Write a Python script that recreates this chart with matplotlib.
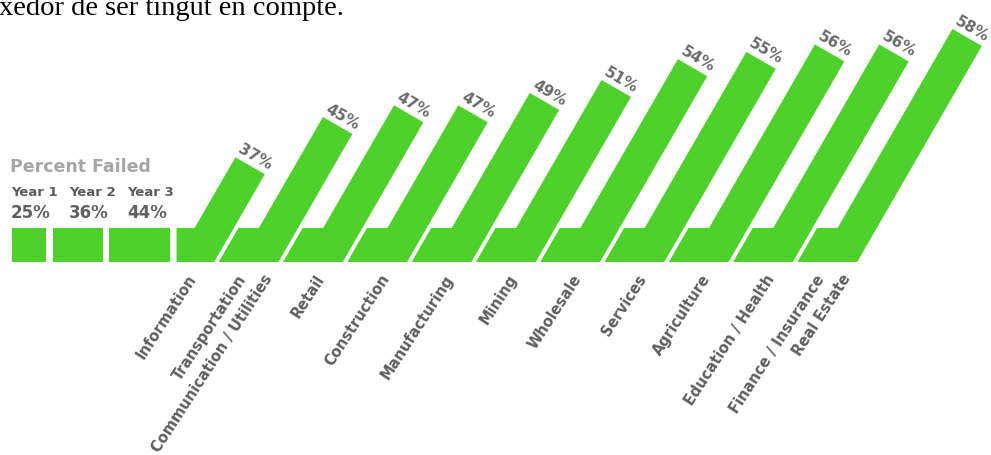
import matplotlib.pyplot as plt
import numpy as np

# tasa de fracaso per any
years = ['Year 1', 'Year 2', 'Year 3']
year_pct = [25, 36, 44]

# percentatge de fracas per sector
sectors = [['Information'],
           ['Transportation', 'Communication / Utilities'],
           ['Retail'],
           ['Construction'],
           ['Manufacturing'],
           ['Mining'],
           ['Wholesale'],
           ['Services'],
           ['Agriculture'],
           ['Education / Health'],
           ['Finance / Insurance', 'Real Estate']]
sector_pct = [37, 45, 47, 47, 49, 51, 54, 55, 56, 56, 58]

GREEN = '#4fd12b'
GREY = '#6a6a6a'

W, H = 991, 455
y_top, y_bot = 228, 262          # banda de base
band = y_bot - y_top             # gruix de la banda
tan30 = np.tan(np.radians(30))   # inclinacio de les barres (60 graus)
step = 64.3                      # distancia entre sectors
gap = 6.3


def rise_px(p):
    # alçada de la diagonal per sobre de la base
    return 199 * (p / 58.0) ** 2.3


fig = plt.figure(figsize=(W / 100, H / 100), dpi=100)
ax = fig.add_axes([0, 0, 1, 1])
ax.set_xlim(0, W)
ax.set_ylim(H, 0)
ax.axis('off')

# text tallat de la pagina
ax.text(-1, 15, 'xedor de ser tingut en compte.', family='Liberation Serif',
        fontsize=20.5, color='black', va='baseline', ha='left')

# caixes dels anys
widths = 1.39 * np.array(year_pct)
lefts = 11.7 + np.concatenate([[0], np.cumsum(widths + gap)[:-1]])
ax.barh(y_top + band / 2, widths, left=lefts, height=band, color=GREEN, lw=0)

ax.text(10, 171.5, 'Percent Failed', color='#a6a6a6', fontsize=12.5,
        fontweight='bold', ha='left', va='baseline')
for i, (yr, p) in enumerate(zip(years, year_pct)):
    x = 11 + 58 * i
    ax.text(x, 196, yr, color='#5c5c5c', fontsize=9.5, fontweight='bold',
            ha='left', va='baseline')
    ax.text(x, 218.5, f'{p}%', color='#606060', fontsize=12, fontweight='bold',
            ha='left', va='baseline')

# formes en "pal d'hoquei"
start = lefts[-1] + widths[-1] + gap
knee0 = start + 18
cap = np.array([np.cos(np.radians(30)), np.sin(np.radians(30))]) * band
up = np.array([0.5, -np.sqrt(3) / 2])
prev_br = None
for i, (lab, p) in enumerate(zip(sectors, sector_pct)):
    knee = knee0 + step * i
    r = rise_px(p)
    xa, ya = knee + tan30 * r, y_top - r
    tr = (xa + cap[0], ya + cap[1])
    br = (tr[0] - tan30 * (y_bot - tr[1]), y_bot)
    if prev_br is None:
        bl = (start, y_bot)
        tl = (start, y_top)
    else:
        bl = (prev_br[0] + 4.5, y_bot)
        tl = (bl[0] + tan30 * band, y_top)
    xs = [bl[0], tl[0], knee, xa, tr[0], br[0]]
    ys = [bl[1], tl[1], y_top, ya, tr[1], br[1]]
    ax.fill(xs, ys, color=GREEN, lw=0)
    prev_br = br

    # etiqueta del percentatge sobre la tapa
    mid = np.array([xa, ya]) + cap / 2 + up * 10
    ax.text(mid[0], mid[1], f'{p}%', color=GREY, fontsize=11, fontweight='bold',
            rotation=-30, rotation_mode='anchor', ha='center', va='center')

    # nom del sector
    offs = [-8] if len(lab) == 1 else [-22, 4]
    for line, dx in zip(lab, offs):
        ax.text(knee + dx, 272, line, color='#5e5e5e', fontsize=10.5,
                fontweight='bold', rotation=57, rotation_mode='anchor',
                ha='right', va='top')

fig.savefig('out.png', dpi=100)
